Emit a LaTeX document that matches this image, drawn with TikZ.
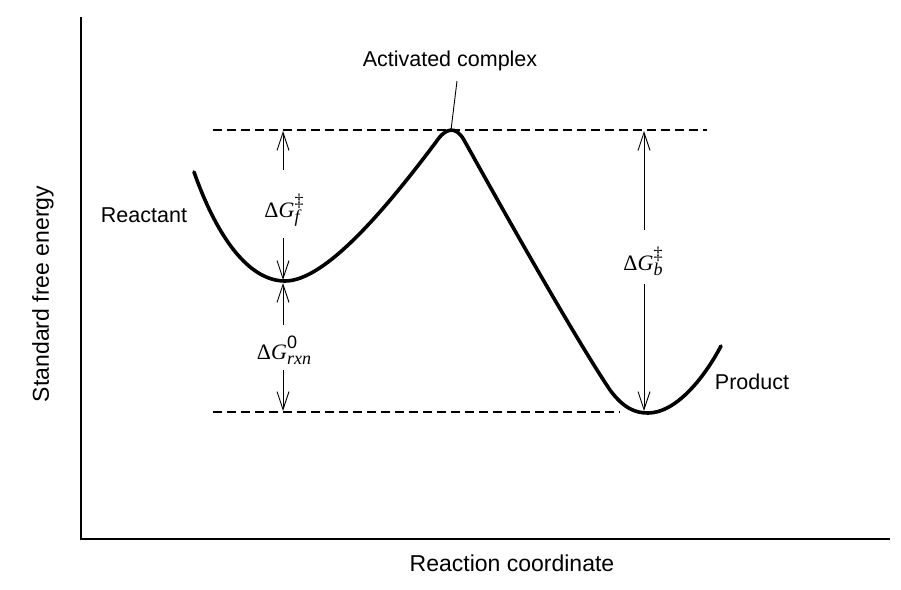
\documentclass[tikz,border=0pt]{standalone}
\usepackage{fontspec}
\setmainfont{Liberation Serif}
\setsansfont{Liberation Sans}
\usetikzlibrary{arrows.meta}
\newcommand\scr[1]{{\fontsize{18}{18}\selectfont #1}}
\newcommand\dG[2]{Δ\textit{G}\rlap{\raisebox{11pt}{\scr{#1}}}\raisebox{-5pt}{\scr{#2}}}
\begin{document}
\begin{tikzpicture}[x=1pt,y=-1pt,
  lbl/.style={font=\sffamily\fontsize{21.5}{24}\selectfont, inner sep=0pt},
  axlbl/.style={font=\sffamily\fontsize{23}{26}\selectfont, inner sep=0pt},
  mlbl/.style={font=\fontsize{22}{26}\selectfont, inner sep=0pt, anchor=base},
  dim/.style={line width=0.9pt, -{Straight Barb[length=18pt,width=12pt,line width=0.9pt]}},
  level/.style={line width=1.8pt, dash pattern=on 9pt off 5pt},
  axis/.style={line width=2.2pt},
  energy/.style={line width=3.6pt, line cap=round, line join=round}]
\useasboundingbox (0,0) rectangle (901,589);
% axes
\coordinate (ytop) at (81,17);
\coordinate (orig) at (81,539);
\coordinate (xend) at (890,539);
\draw[axis] (ytop) -- (orig) -- (xend);
\node[axlbl, rotate=90] (ylab) at (43,294) {Standard free energy};
\node[axlbl] (xlab) at (512,563) {Reaction coordinate};
% levels
\coordinate (t1) at (213,130); \coordinate (t2) at (707,130);
\coordinate (b1) at (213,412); \coordinate (b2) at (620,412);
\draw[level] (t1) -- (t2);
\draw[level] (b1) -- (b2);
% energy curve
\coordinate (cstart) at (194,172);
\coordinate (rmin) at (285,281);
\coordinate (pk1) at (436,142);
\coordinate (pk2) at (464,140);
\coordinate (dsc) at (610,390);
\coordinate (pmin) at (648,413);
\coordinate (cend) at (721,346);
\draw[energy] (cstart) .. controls (218,240) and (250,281) .. (rmin)
  .. controls (325,281) and (385,210) .. (pk1)
  .. controls (446,127) and (456,126) .. (pk2)
  .. controls (500,205) and (575,338) .. (dsc)
  .. controls (624,409) and (636,413) .. (pmin)
  .. controls (675,413) and (703,380) .. (cend);
% labels
\node[lbl] (react) at (144,215) {Reactant};
\node[lbl] (prod) at (752,382) {Product};
\node[lbl] (ac) at (450,61) {Activated complex};
\coordinate (peak) at (451,130);
\coordinate (acl) at (457,81);
\draw[line width=0.9pt] (peak) -- (acl);
% Delta G_f
\node[mlbl] (gf) at (282,217) {\dG{‡}{\itshape f}};
\coordinate (gfu) at (283,170); \coordinate (gft) at (283,131);
\coordinate (gfd) at (283,238); \coordinate (gfb) at (283,280);
\draw[dim] (gfu) -- (gft);
\draw[dim] (gfd) -- (gfb);
% Delta G_rxn
\node[mlbl] (gr) at (284,359) {\dG{\sffamily 0}{\itshape rxn}};
\coordinate (gru) at (283,325); \coordinate (grt) at (283,283);
\coordinate (grd) at (283,370); \coordinate (grb) at (283,411);
\draw[dim] (gru) -- (grt);
\draw[dim] (grd) -- (grb);
% Delta G_b
\node[mlbl] (gb) at (643,270) {\dG{‡}{\itshape b}};
\coordinate (gbu) at (644,230); \coordinate (gbt) at (644,131);
\coordinate (gbd) at (644,284); \coordinate (gbb) at (644,411);
\draw[dim] (gbu) -- (gbt);
\draw[dim] (gbd) -- (gbb);
\end{tikzpicture}
\end{document}
